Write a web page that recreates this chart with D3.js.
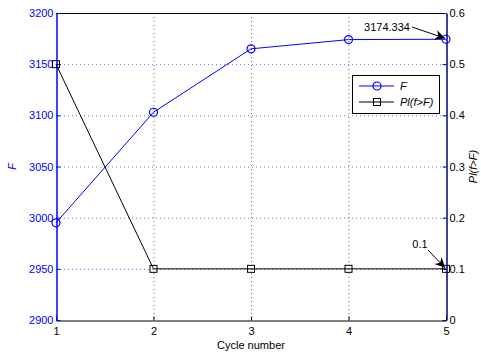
<!DOCTYPE html>
<html><head><meta charset="utf-8">
<script src="https://cdn.jsdelivr.net/npm/d3@7"></script>
<style>body{margin:0;background:#fff}text{font-family:"Liberation Sans",Arial,sans-serif}</style>
</head><body><svg id="c" width="481" height="354"></svg>
<script>
const cycles = [1, 2, 3, 4, 5];
const fValues = [2995, 3103, 3165, 3174, 3174.334];
const plValues = [0.5, 0.1, 0.1, 0.1, 0.1];
const leftTicks = [2900, 2950, 3000, 3050, 3100, 3150, 3200];
const rightTicks = [0, 0.1, 0.2, 0.3, 0.4, 0.5, 0.6];
const xTicks = [1, 2, 3, 4, 5];

const svg = d3.select("#c");
const L = 56, R = 446, T = 13, B = 320;
const x = d3.scaleLinear().domain([1, 5]).range([L, R]);
const yL = d3.scaleLinear().domain([2900, 3200]).range([B, T]);
const yR = d3.scaleLinear().domain([0, 0.6]).range([B, T]);
const blue = "#0000ff", navy = "#000080";

// grid
svg.append("g").selectAll("line").data(leftTicks.slice(1, -1)).join("line")
  .attr("x1", L).attr("x2", R).attr("y1", d => yL(d) + .5).attr("y2", d => yL(d) + .5)
  .attr("stroke", blue).attr("stroke-opacity", .6).attr("stroke-dasharray", "1,3");
svg.append("g").selectAll("line").data(xTicks.slice(1, -1)).join("line")
  .attr("y1", T).attr("y2", B).attr("x1", d => x(d) + .5).attr("x2", d => x(d) + .5)
  .attr("stroke", "#000").attr("stroke-opacity", .6).attr("stroke-dasharray", "1,3");

// box top
svg.append("line").attr("x1", L).attr("x2", R).attr("y1", T + .5).attr("y2", T + .5).attr("stroke", "#000");

// bottom axis
const gx = svg.append("g").attr("transform", `translate(0,${B + .5})`)
  .call(d3.axisBottom(x).tickValues(xTicks).tickFormat(d3.format("d")).tickSizeInner(-4).tickSizeOuter(0).tickPadding(7));
gx.select(".domain").attr("stroke", "#000");
gx.selectAll("text").attr("font-size", 11).attr("fill", "#000");
gx.selectAll("line").attr("stroke", "#000");

// left axis
const gl = svg.append("g").attr("transform", `translate(${L + .5},0)`)
  .call(d3.axisLeft(yL).tickValues(leftTicks).tickFormat(d3.format("d")).tickSizeInner(-4).tickSizeOuter(0).tickPadding(3));
gl.select(".domain").attr("stroke", blue).attr("stroke-width", 1.5);
gl.selectAll("line").attr("stroke", blue);
gl.selectAll("text").attr("font-size", 11).attr("fill", blue);

// right axis
const gr = svg.append("g").attr("transform", `translate(${R + .5},0)`)
  .call(d3.axisRight(yR).tickValues(rightTicks).tickFormat(d => d === 0 ? "0" : d3.format(".1f")(d)).tickSizeInner(-4).tickSizeOuter(0).tickPadding(3));
gr.select(".domain").attr("stroke", navy).attr("stroke-width", 1.5);
gr.selectAll("line").attr("stroke", navy);
gr.selectAll("text").attr("font-size", 11).attr("fill", "#000");

// axis labels
svg.append("text").attr("transform", `translate(16,${(T + B) / 2}) rotate(-90)`).attr("text-anchor", "middle")
  .attr("font-size", 11).attr("font-style", "italic").attr("fill", blue).text("F");
svg.append("text").attr("transform", `translate(477,${(T + B) / 2}) rotate(-90)`).attr("text-anchor", "middle")
  .attr("font-size", 11).attr("font-style", "italic").attr("fill", "#000").text("Pl(f>F)");
svg.append("text").attr("x", (L + R) / 2).attr("y", 349).attr("text-anchor", "middle")
  .attr("font-size", 11).attr("fill", "#000").text("Cycle number");

// F series
svg.append("path").datum(cycles.map((c, i) => [c, fValues[i]]))
  .attr("d", d3.line().x(d => x(d[0])).y(d => yL(d[1])))
  .attr("fill", "none").attr("stroke", blue).attr("stroke-width", 1);
svg.append("g").selectAll("circle").data(cycles.map((c, i) => [c, fValues[i]])).join("circle")
  .attr("cx", d => x(d[0])).attr("cy", d => yL(d[1])).attr("r", 4)
  .attr("fill", "none").attr("stroke", blue).attr("stroke-width", 1.2);

// Pl series
svg.append("path").datum(cycles.map((c, i) => [c, plValues[i]]))
  .attr("d", d3.line().x(d => x(d[0])).y(d => yR(d[1])))
  .attr("fill", "none").attr("stroke", "#000").attr("stroke-width", 1);
svg.append("g").selectAll("rect").data(cycles.map((c, i) => [c, plValues[i]])).join("rect")
  .attr("x", d => x(d[0]) - 3.5).attr("y", d => yR(d[1]) - 3.5).attr("width", 7).attr("height", 7)
  .attr("fill", "none").attr("stroke", "#000").attr("stroke-width", 1);

// arrows
const defs = svg.append("defs");
defs.append("marker").attr("id", "ah").attr("viewBox", "0 0 10 10").attr("refX", 10).attr("refY", 5)
  .attr("markerWidth", 13).attr("markerHeight", 10).attr("orient", "auto").attr("markerUnits", "userSpaceOnUse")
  .append("path").attr("d", "M0,0 L10,5 L0,10 L3,5 Z").attr("fill", "#000");
const lastF = fValues[fValues.length - 1], lastP = plValues[plValues.length - 1];
svg.append("text").attr("x", 387).attr("y", 31).attr("text-anchor", "middle").attr("font-size", 11).text(d3.format(".3f")(lastF));
svg.append("line").attr("x1", 412).attr("y1", 27).attr("x2", x(5) - 1).attr("y2", yL(lastF) - 1)
  .attr("stroke", "#000").attr("marker-end", "url(#ah)");
svg.append("text").attr("x", 420).attr("y", 248).attr("text-anchor", "middle").attr("font-size", 11).text(String(lastP));
svg.append("line").attr("x1", 428).attr("y1", 250).attr("x2", x(5) - 1).attr("y2", yR(lastP) - 1)
  .attr("stroke", "#000").attr("marker-end", "url(#ah)");

// legend
const lg = svg.append("g").attr("transform", "translate(352,75)");
lg.append("rect").attr("x", .5).attr("y", .5).attr("width", 87).attr("height", 38).attr("fill", "#fff").attr("stroke", "#000");
lg.append("line").attr("x1", 7).attr("x2", 42).attr("y1", 11).attr("y2", 11).attr("stroke", blue);
lg.append("circle").attr("cx", 25).attr("cy", 11).attr("r", 4).attr("fill", "none").attr("stroke", blue).attr("stroke-width", 1.2);
lg.append("text").attr("x", 48).attr("y", 15).attr("font-size", 11).attr("font-style", "italic").text("F");
lg.append("line").attr("x1", 7).attr("x2", 42).attr("y1", 27).attr("y2", 27).attr("stroke", "#000");
lg.append("rect").attr("x", 21.5).attr("y", 23.5).attr("width", 7).attr("height", 7).attr("fill", "none").attr("stroke", "#000");
lg.append("text").attr("x", 48).attr("y", 31).attr("font-size", 11).attr("font-style", "italic").text("Pl(f>F)");
</script></body></html>
